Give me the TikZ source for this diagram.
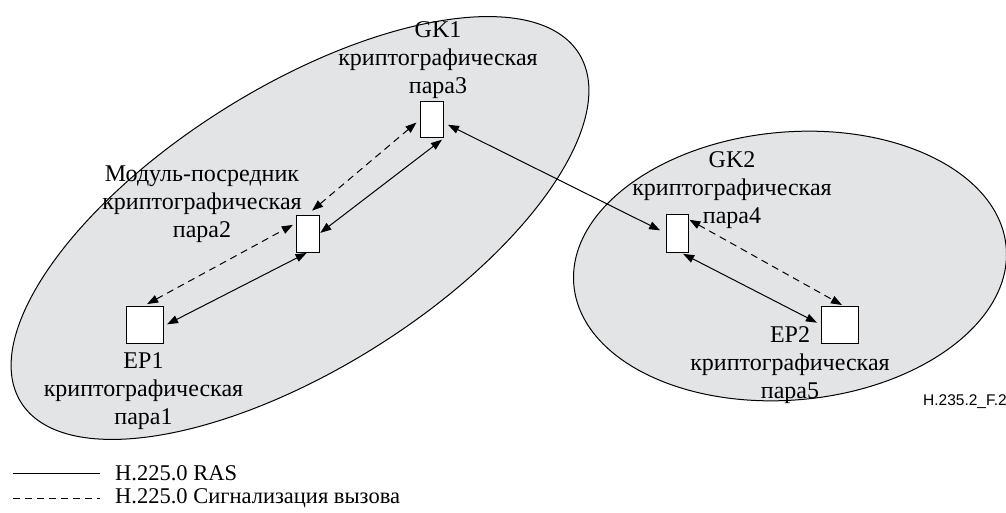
\documentclass[tikz,border=0pt]{standalone}
\usepackage{fontspec}
\setmainfont{Liberation Serif}
\newfontfamily\figfont{Liberation Sans}
\usetikzlibrary{arrows.meta,positioning,shapes.geometric}
\definecolor{zonegray}{RGB}{227,228,230}

\begin{document}
\begin{tikzpicture}[x=1pt,y=-1pt,
    font=\fontsize{24}{28}\selectfont,
    zone/.style={draw,ellipse,fill=zonegray,line width=1pt,inner sep=0pt},
    pairbox/.style={draw,fill=white,line width=1pt,inner sep=0pt},
    lbl/.style={align=center,inner sep=0pt},
    legtext/.style={anchor=west,inner sep=0pt,font=\fontsize{22.5}{26}\selectfont},
    link/.style={line width=1pt,{Triangle[length=11pt,width=8pt]}-{Triangle[length=11pt,width=8pt]}},
    sig/.style={link,dash pattern=on 7pt off 5pt}]
  \useasboundingbox (0,0) rectangle (1006,513);
  % two zones
  \node[zone,rotate=32,minimum width=658,minimum height=282] (zoneone) at (300,228) {};
  \node[zone,rotate=5,minimum width=434,minimum height=268] (zonetwo) at (790,266) {};
  % crypto pair boxes
  \node[pairbox,minimum width=23,minimum height=36] (gkone) at (431.5,120) {};
  \node[pairbox,minimum width=23,minimum height=37] (proxy) at (307.5,233.5) {};
  \node[pairbox,minimum width=37,minimum height=37] (epone) at (144.5,324.5) {};
  \node[pairbox,minimum width=22,minimum height=38] (gktwo) at (677,233) {};
  \node[pairbox,minimum width=37,minimum height=37] (eptwo) at (839.5,324.5) {};
  % labels
  \node[lbl] (gkonelbl) at (438,60) {GK1\\криптографическая\\пара3};
  \node[lbl] (proxylbl) at (202,204) {Модуль-посредник\\криптографическая\\пара2};
  \node[lbl] (eponelbl) at (143.5,391) {EP1\\криптографическая\\пара1};
  \node[lbl] (gktwolbl) at (732,190) {GK2\\криптографическая\\пара4};
  \node[lbl] (eptwolbl) at (790,365) {EP2\\криптографическая\\пара5};
  \node[font=\figfont\fontsize{15.5}{18}\selectfont,anchor=west,inner sep=0pt] (figid) at (923,402) {H.235.2\_F.2};
  % RAS and call signalling
  \draw[sig,shorten <=6pt,shorten >=4pt] (proxy.north) -- (gkone.west);
  \draw[link,shorten <=1pt,shorten >=2pt] (proxy.east) -- (gkone.south east);
  \draw[sig,shorten <=3pt,shorten >=3pt] (epone.north) -- (proxy.140);
  \draw[link,shorten <=4pt,shorten >=1pt] (epone.-5) -- (proxy.south);
  \draw[link,shorten <=5pt,shorten >=6pt] (gkone.-12) -- (gktwo.west);
  \draw[sig,shorten <=1pt,shorten >=1pt] (gktwo.50) -- (eptwo.80);
  \draw[link,shorten <=3pt,shorten >=4pt] (gktwo.-80) -- (eptwo.west);
  % legend
  \coordinate (rasa) at (13,473);
  \coordinate (rasb) at (100,473);
  \coordinate (siga) at (13,498);
  \coordinate (sigb) at (100,498);
  \draw[line width=1pt] (rasa) -- (rasb);
  \draw[line width=1pt,dash pattern=on 7pt off 5pt] (siga) -- (sigb);
  \node[legtext] (raslbl) at (115,473) {H.225.0 RAS};
  \node[legtext] (siglbl) at (115,498) {H.225.0 Сигнализация вызова};
\end{tikzpicture}
\end{document}
